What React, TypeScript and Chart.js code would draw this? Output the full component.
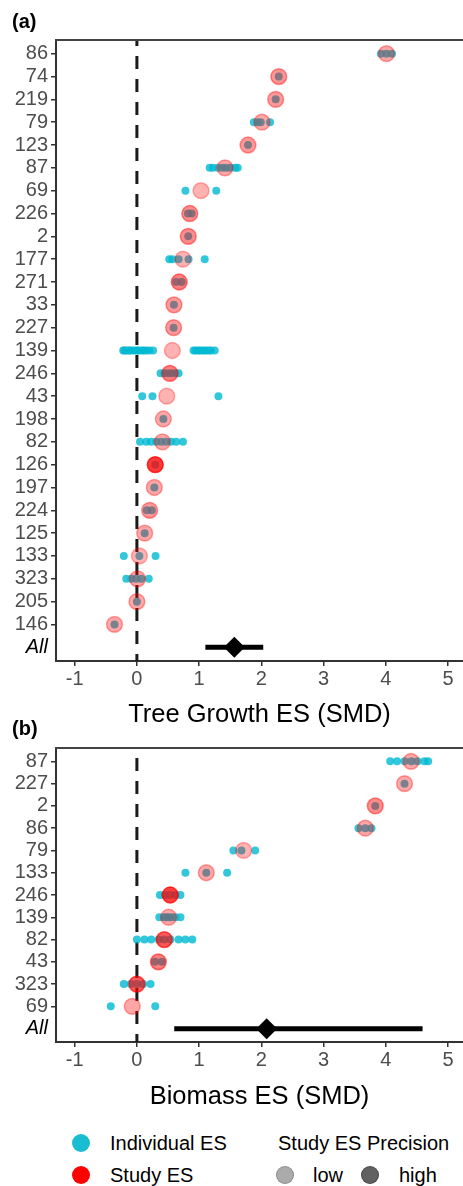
import React, { useEffect, useRef } from "react";
import { Chart, registerables } from "chart.js";

Chart.register(...registerables);

const FONT = "'Liberation Sans', Arial, Helvetica, sans-serif";
const CYAN = "rgba(0,185,210,0.8)";
const TICK_GRAY = "#4D4D4D";
const AXIS_GRAY = "#333333";

// ---------- Panel (a): Tree growth ----------
const treeStudies = ["86", "74", "219", "79", "123", "87", "69", "226", "2", "177", "271", "33", "227", "139", "246", "43", "198", "82", "126", "197", "224", "125", "133", "323", "205", "146"];
const treeStudyES = [4.01, 2.28, 2.23, 2.01, 1.785, 1.415, 1.03, 0.85, 0.825, 0.74, 0.68, 0.595, 0.59, 0.57, 0.53, 0.48, 0.425, 0.41, 0.295, 0.28, 0.205, 0.125, 0.04, 0.01, 0.0, -0.36];
const treeStudyPrecision = [0.35, 0.42, 0.4, 0.35, 0.4, 0.35, 0.3, 0.45, 0.45, 0.3, 0.5, 0.4, 0.4, 0.3, 0.5, 0.3, 0.35, 0.35, 0.78, 0.35, 0.4, 0.35, 0.3, 0.35, 0.35, 0.35];
const treeIndividualES = [
  [3.92, 4.01, 4.1],
  [2.28],
  [2.23],
  [1.88, 1.94, 1.99, 2.14],
  [1.785],
  [1.17, 1.22, 1.3, 1.37, 1.43, 1.5, 1.58, 1.62],
  [0.78, 1.275],
  [0.82, 0.88],
  [0.825],
  [0.52, 0.57, 0.67, 0.83, 1.09],
  [0.63, 0.72],
  [0.595],
  [0.59],
  [-0.22, -0.2, -0.17, -0.13, -0.11, -0.07, -0.03, 0.01, 0.03, 0.08, 0.11, 0.15, 0.2, 0.26, 0.91, 0.94, 0.98, 1.01, 1.05, 1.08, 1.12, 1.16, 1.19, 1.25],
  [0.38, 0.44, 0.5, 0.56, 0.62, 0.67],
  [0.085, 0.25, 1.31],
  [0.425],
  [0.05, 0.15, 0.23, 0.31, 0.39, 0.47, 0.55, 0.63, 0.74],
  [0.295],
  [0.28],
  [0.16, 0.24],
  [0.125],
  [-0.21, 0.04, 0.3],
  [-0.17, -0.09, -0.01, 0.07, 0.19],
  [0.0],
  [-0.36],
];
const treeOverallES = 1.565;
const treeOverallCI = [1.1, 2.03];

// ---------- Panel (b): Biomass ----------
const bioStudies = ["87", "227", "2", "86", "79", "133", "246", "139", "82", "43", "323", "69"];
const bioStudyES = [4.405, 4.3, 3.83, 3.67, 1.715, 1.115, 0.535, 0.51, 0.44, 0.345, 0.0, -0.075];
const bioStudyPrecision = [0.35, 0.35, 0.45, 0.35, 0.3, 0.35, 0.75, 0.35, 0.65, 0.5, 0.65, 0.35];
const bioIndividualES = [
  [4.07, 4.18, 4.3, 4.41, 4.51, 4.62, 4.68],
  [4.3],
  [3.83],
  [3.56, 3.67, 3.77],
  [1.55, 1.68, 1.9],
  [0.78, 1.115, 1.45],
  [0.37, 0.45, 0.53, 0.62, 0.7],
  [0.36, 0.43, 0.47, 0.51, 0.56, 0.62, 0.7],
  [0.0, 0.12, 0.23, 0.35, 0.44, 0.54, 0.67, 0.78, 0.89],
  [0.29, 0.4],
  [-0.21, -0.1, 0.0, 0.1, 0.22],
  [-0.42, 0.295],
];
const bioOverallES = 2.085;
const bioOverallCI = [0.6, 4.59];

const xTickValues = [-1, 0, 1, 2, 3, 4, 5];
const X_MIN = -1.3;
const X_MAX = 5.24;
const OVERALL_LABEL = "All";

const topBorder = {
  id: "topBorder",
  afterDraw(chart: any) {
    const { ctx, chartArea } = chart;
    ctx.save();
    ctx.strokeStyle = "#444444";
    ctx.lineWidth = 2;
    ctx.beginPath();
    ctx.moveTo(chartArea.left - 1, chartArea.top);
    ctx.lineTo(chartArea.right, chartArea.top);
    ctx.stroke();
    ctx.restore();
  },
};

type PanelProps = {
  studies: string[];
  studyES: number[];
  precision: number[];
  individual: number[][];
  overall: number;
  ci: number[];
  xTitle: string;
  top: number;
  height: number;
  padTop: number;
  axisHeight: number;
  dashOffset: number;
};

function ForestPanel(p: PanelProps) {
  const ref = useRef<HTMLCanvasElement>(null);
  useEffect(() => {
    const labels = [...p.studies, OVERALL_LABEL];
    const n = labels.length;
    const indPts = p.individual.flatMap((arr, i) => arr.map((x) => ({ x, y: i + 1 })));
    const studyPts = p.studyES.map((x, i) => ({ x, y: i + 1 }));
    const studyColors = p.precision.map((a) => `rgba(255,0,0,${a})`);
    const chart = new Chart(ref.current as HTMLCanvasElement, {
      type: "scatter",
      data: {
        datasets: [
          {
            type: "line",
            data: [
              { x: 0, y: 0.4 },
              { x: 0, y: n + 0.6 },
            ],
            borderColor: "#1a1a1a",
            borderWidth: 3,
            borderDash: [13, 10],
            borderDashOffset: p.dashOffset,
            borderCapStyle: "butt",
            pointRadius: 0,
            order: 5,
          } as any,
          {
            data: indPts,
            pointRadius: 4,
            backgroundColor: CYAN,
            borderColor: CYAN,
            borderWidth: 0,
            order: 4,
          },
          {
            data: studyPts,
            pointRadius: 7.9,
            backgroundColor: studyColors,
            borderColor: studyColors,
            borderWidth: 1.5,
            order: 3,
          },
          {
            type: "line",
            data: [
              { x: p.ci[0], y: n },
              { x: p.ci[1], y: n },
            ],
            borderColor: "#000000",
            borderWidth: 5,
            borderCapStyle: "butt",
            pointRadius: 0,
            order: 2,
          } as any,
          {
            data: [{ x: p.overall, y: n }],
            pointStyle: "rectRot",
            pointRadius: 10.5,
            backgroundColor: "#000000",
            borderColor: "#000000",
            borderWidth: 0,
            order: 1,
          },
        ],
      },
      options: {
        animation: false,
        responsive: false,
        devicePixelRatio: 1,
        layout: { autoPadding: false, padding: { top: p.padTop, left: 0, right: 0, bottom: 0 } },
        plugins: { legend: { display: false }, tooltip: { enabled: false } },
        scales: {
          x: {
            type: "linear",
            min: X_MIN,
            max: X_MAX,
            afterBuildTicks: (s: any) => {
              s.ticks = xTickValues.map((v) => ({ value: v }));
            },
            afterFit: (s: any) => {
              s.height = p.axisHeight;
              s.paddingLeft = 0;
              s.paddingRight = 0;
            },
            ticks: {
              color: TICK_GRAY,
              font: { family: FONT, size: 20 },
              padding: 1,
              maxRotation: 0,
              callback: (v: any) => String(v),
            },
            grid: {
              display: true,
              drawOnChartArea: false,
              drawTicks: true,
              tickLength: 5,
              color: AXIS_GRAY,
              lineWidth: 1.5,
            },
            border: { display: true, color: AXIS_GRAY, width: 2 },
            title: {
              display: true,
              text: p.xTitle,
              color: "#000000",
              font: { family: FONT, size: 25.5 },
              padding: { top: 0, bottom: 0 },
            },
          },
          y: {
            type: "linear",
            reverse: true,
            min: 0.4,
            max: n + 0.6,
            afterBuildTicks: (s: any) => {
              s.ticks = labels.map((_, i) => ({ value: i + 1 }));
            },
            afterFit: (s: any) => {
              s.width = 56;
              s.paddingTop = 0;
              s.paddingBottom = 0;
            },
            ticks: {
              autoSkip: false,
              padding: 3,
              callback: (v: any) => labels[Math.round(v) - 1],
              color: (ctx: any) => (ctx.tick && ctx.tick.value === n ? "#000000" : TICK_GRAY),
              font: (ctx: any) => ({
                family: FONT,
                size: 20,
                style: ctx.tick && ctx.tick.value === n ? "italic" : "normal",
              }),
            },
            grid: {
              display: true,
              drawOnChartArea: false,
              drawTicks: true,
              tickLength: 5,
              lineWidth: 1.5,
              color: (ctx: any) => (ctx.tick && ctx.tick.value === n ? "rgba(0,0,0,0)" : AXIS_GRAY),
            },
            border: { display: true, color: AXIS_GRAY, width: 2 },
          },
        },
      },
      plugins: [topBorder],
    } as any);
    return () => chart.destroy();
  }, []);
  return (
    <canvas
      ref={ref}
      width={463}
      height={p.height}
      style={{ position: "absolute", left: 0, top: p.top, width: 463, height: p.height }}
    />
  );
}

function Txt(props: { x: number; y: number; size: number; bold?: boolean; children: React.ReactNode }) {
  return (
    <div
      style={{
        position: "absolute",
        left: props.x,
        top: props.y,
        transform: "translateY(-50%)",
        fontSize: props.size,
        lineHeight: 1,
        fontWeight: props.bold ? 700 : 400,
        color: "#000",
        whiteSpace: "nowrap",
      }}
    >
      {props.children}
    </div>
  );
}

function Dot(props: { cx: number; cy: number; r: number; color: string; border?: string }) {
  return (
    <div
      style={{
        position: "absolute",
        left: props.cx - props.r,
        top: props.cy - props.r,
        width: props.r * 2,
        height: props.r * 2,
        borderRadius: "50%",
        background: props.color,
        boxSizing: "border-box",
        border: props.border ? `1.5px solid ${props.border}` : "none",
      }}
    />
  );
}

export default function App() {
  return (
    <div
      style={{
        position: "absolute",
        left: 0,
        top: 0,
        width: 463,
        height: 1186,
        background: "#ffffff",
        fontFamily: FONT,
        overflow: "hidden",
      }}
    >
      <ForestPanel
        studies={treeStudies}
        studyES={treeStudyES}
        precision={treeStudyPrecision}
        individual={treeIndividualES}
        overall={treeOverallES}
        ci={treeOverallCI}
        xTitle="Tree Growth ES (SMD)"
        top={0}
        height={730}
        padTop={40}
        axisHeight={69}
        dashOffset={7}
      />
      <ForestPanel
        studies={bioStudies}
        studyES={bioStudyES}
        precision={bioStudyPrecision}
        individual={bioIndividualES}
        overall={bioOverallES}
        ci={bioOverallCI}
        xTitle="Biomass ES (SMD)"
        top={735}
        height={377}
        padTop={13}
        axisHeight={70}
        dashOffset={13}
      />
      <Txt x={12} y={21} size={20} bold>
        (a)
      </Txt>
      <Txt x={12} y={728} size={20} bold>
        (b)
      </Txt>

      <Dot cx={81} cy={1143} r={9} color="#1ABCD2" />
      <Txt x={110} y={1143} size={20}>
        Individual ES
      </Txt>
      <Dot cx={81} cy={1175} r={9} color="#FF0000" />
      <Txt x={110} y={1175} size={20}>
        Study ES
      </Txt>
      <Txt x={278} y={1143} size={20}>
        Study ES Precision
      </Txt>
      <Dot cx={285} cy={1175} r={9} color="rgba(0,0,0,0.33)" border="rgba(0,0,0,0.2)" />
      <Txt x={313} y={1175} size={20}>
        low
      </Txt>
      <Dot cx={370} cy={1175} r={9} color="rgba(0,0,0,0.62)" border="rgba(0,0,0,0.3)" />
      <Txt x={399} y={1175} size={20}>
        high
      </Txt>
    </div>
  );
}
